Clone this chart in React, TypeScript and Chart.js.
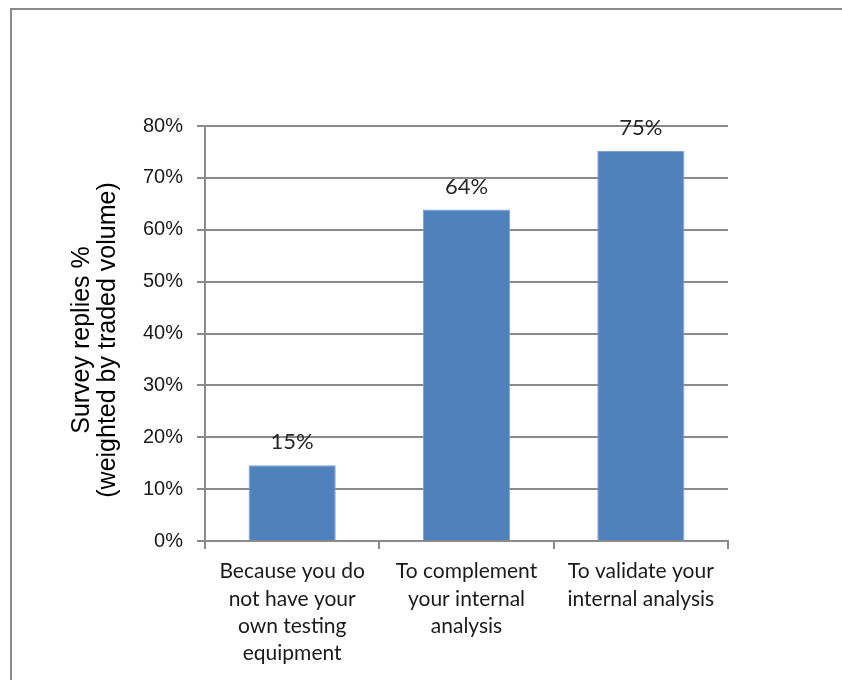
import React, { useEffect, useRef } from "react";
import { Chart, registerables } from "chart.js";

Chart.register(...registerables);

const categories: string[][] = [
  ["Because you do", "not have your", "own testing", "equipment"],
  ["To complement", "your internal", "analysis"],
  ["To validate your", "internal analysis"],
];
const values: number[] = [14.6, 63.9, 75.2];
const yTicks: number[] = [0, 10, 20, 30, 40, 50, 60, 70, 80];
const axisTitle: string[] = ["Survey replies %", "(weighted by traded volume)"];

const W = 842;
const H = 680;

const framePlugin = {
  id: "frame",
  beforeDraw(chart: any) {
    const ctx = chart.ctx;
    ctx.save();
    ctx.fillStyle = "#ffffff";
    ctx.fillRect(0, 0, W, H);
    ctx.strokeStyle = "#8a8a8a";
    ctx.lineWidth = 2;
    ctx.beginPath();
    ctx.moveTo(11, H + 5);
    ctx.lineTo(11, 9);
    ctx.lineTo(W + 5, 9);
    ctx.stroke();
    ctx.restore();
  },
};

const titlePlugin = {
  id: "ytitle",
  afterDraw(chart: any) {
    const ctx = chart.ctx;
    ctx.save();
    ctx.fillStyle = "#000000";
    ctx.font = "25px 'Liberation Sans', Arial, sans-serif";
    ctx.textAlign = "center";
    ctx.textBaseline = "middle";
    ctx.translate(95, 340);
    ctx.rotate(-Math.PI / 2);
    ctx.fillText(axisTitle[0], 0, -13);
    ctx.fillText(axisTitle[1], 0, 13);
    ctx.restore();
  },
};

const labelPlugin = {
  id: "barlabels",
  afterDatasetsDraw(chart: any) {
    const ctx = chart.ctx;
    const meta = chart.getDatasetMeta(0);
    ctx.save();
    ctx.fillStyle = "#262626";
    ctx.font = "22px Lato, 'Noto Sans', sans-serif";
    ctx.textAlign = "center";
    ctx.textBaseline = "middle";
    meta.data.forEach((bar: any, i: number) => {
      ctx.fillText(Math.round(values[i]) + "%", bar.x, bar.y - 23);
    });
    ctx.restore();
  },
};

export default function App() {
  const ref = useRef<HTMLCanvasElement | null>(null);
  useEffect(() => {
    if (!ref.current) return;
    const chart = new Chart(ref.current, {
      type: "bar",
      data: {
        labels: categories,
        datasets: [
          {
            data: values,
            backgroundColor: "#4f81bd",
            borderColor: "#7da2d0",
            borderWidth: 1,
            barPercentage: 0.5,
            categoryPercentage: 1,
          },
        ],
      },
      options: {
        animation: false,
        responsive: false,
        devicePixelRatio: 1,
        layout: { padding: { top: 126, right: 114, left: 0, bottom: 0 } },
        plugins: { legend: { display: false }, tooltip: { enabled: false } },
        scales: {
          x: {
            afterFit(scale: any) {
              scale.height = H - 541;
            },
            grid: {
              offset: true,
              drawOnChartArea: false,
              drawTicks: true,
              tickLength: 8,
              color: "#8a8a8a",
              lineWidth: 2,
            },
            border: { color: "#8a8a8a", width: 2 },
            ticks: {
              color: "#1a1a1a",
              font: { family: "Lato, 'Noto Sans', sans-serif", size: 21, lineHeight: 1.3 },
              padding: 9,
              maxRotation: 0,
              autoSkip: false,
            },
          },
          y: {
            min: 0,
            max: 80,
            afterFit(scale: any) {
              scale.width = 205;
            },
            afterBuildTicks(scale: any) {
              scale.ticks = yTicks.map((v) => ({ value: v }));
            },
            grid: {
              color: "#8a8a8a",
              lineWidth: 2,
              tickLength: 8,
            },
            border: { color: "#8a8a8a", width: 2 },
            ticks: {
              color: "#1a1a1a",
              font: { family: "'Liberation Sans', Arial, sans-serif", size: 20 },
              padding: 14,
              callback: (v: any) => v + "%",
            },
          },
        },
      },
      plugins: [framePlugin, titlePlugin, labelPlugin],
    });
    return () => chart.destroy();
  }, []);
  return (
    <div style={{ position: "fixed", left: 0, top: 0, width: W, height: H, background: "#fff" }}>
      <canvas ref={ref} width={W} height={H} style={{ width: W, height: H, display: "block" }} />
    </div>
  );
}
